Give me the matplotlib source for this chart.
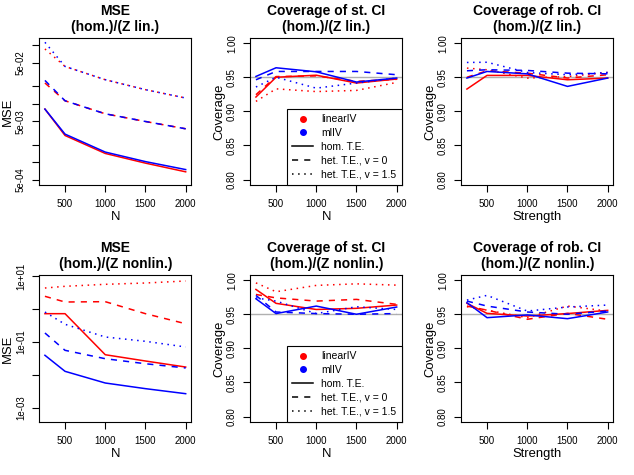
import matplotlib.pyplot as plt
from matplotlib.lines import Line2D
from matplotlib.ticker import FixedLocator, FixedFormatter, NullLocator

plt.rcParams['font.family'] = ['Liberation Sans', 'DejaVu Sans']

n_grid = [250, 500, 1000, 1500, 2000]
x_ticks = [500, 1000, 1500, 2000]

# keys: hom = hom. T.E., het0 = het. T.E. v=0, het15 = het. T.E. v=1.5
mse_lin_linear = {'hom': [0.00815, 0.00288, 0.00142, 0.00097, 0.000689],
                  'het0': [0.0228, 0.0113, 0.00677, 0.0050, 0.00375],
                  'het15': [0.0869, 0.0437, 0.0259, 0.0175, 0.0126]}
mse_lin_mliv = {'hom': [0.00815, 0.00304, 0.00150, 0.00103, 0.000753],
                'het0': [0.0252, 0.0113, 0.00677, 0.0050, 0.00375],
                'het15': [0.113, 0.0437, 0.0259, 0.0175, 0.0126]}

cov_st_lin_linear = {'hom': [0.921, 0.950, 0.953, 0.9415, 0.9474],
                     'het0': [0.9244, 0.951, 0.952, 0.944, 0.947],
                     'het15': [0.9146, 0.933, 0.929, 0.9307, 0.9424]}
cov_st_lin_mliv = {'hom': [0.9512, 0.9639, 0.958, 0.943, 0.9488],
                   'het0': [0.9463, 0.9585, 0.9585, 0.9585, 0.9537],
                   'het15': [0.9357, 0.950, 0.934, 0.9415, 0.9488]}

cov_rob_lin_linear = {'hom': [0.9327, 0.9527, 0.9527, 0.9463, 0.9488],
                      'het0': [0.950, 0.9595, 0.956, 0.9488, 0.9537],
                      'het15': [0.9634, 0.961, 0.9488, 0.951, 0.957]}
cov_rob_lin_mliv = {'hom': [0.9488, 0.9585, 0.955, 0.9366, 0.9488],
                    'het0': [0.9595, 0.961, 0.960, 0.956, 0.955],
                    'het15': [0.9717, 0.972, 0.957, 0.9537, 0.957]}

mse_nonlin_linear = {'hom': [0.728, 0.728, 0.041, 0.0264, 0.0173],
                     'het0': [2.46, 1.65, 1.69, 0.728, 0.36],
                     'het15': [4.4, 4.96, 5.7, 6.25, 7.2]}
mse_nonlin_mliv = {'hom': [0.0394, 0.0128, 0.00565, 0.0038, 0.00267],
                   'het0': [0.188, 0.0558, 0.031, 0.0218, 0.0162],
                   'het15': [0.818, 0.346, 0.142, 0.105, 0.0705]}

cov_st_nonlin_linear = {'hom': [0.9864, 0.966, 0.957, 0.9587, 0.9635],
                        'het0': [0.979, 0.974, 0.9693, 0.9718, 0.9645],
                        'het15': [0.996, 0.983, 0.9923, 0.9946, 0.9927]}
cov_st_nonlin_mliv = {'hom': [0.9727, 0.951, 0.962, 0.950, 0.9606],
                      'het0': [0.9776, 0.9533, 0.951, 0.950, 0.951],
                      'het15': [0.974, 0.9693, 0.951, 0.961, 0.957]}

cov_rob_nonlin_linear = {'hom': [0.966, 0.9513, 0.9474, 0.951, 0.9557],
                         'het0': [0.962, 0.956, 0.9426, 0.9513, 0.9426],
                         'het15': [0.961, 0.956, 0.945, 0.962, 0.9547]}
cov_rob_nonlin_mliv = {'hom': [0.967, 0.945, 0.949, 0.9435, 0.9533],
                       'het0': [0.9693, 0.962, 0.9533, 0.950, 0.9547],
                       'het15': [0.9708, 0.9777, 0.9547, 0.9606, 0.9635]}

styles = {'hom': '-', 'het0': (0, (4, 4)), 'het15': (0, (1, 3))}
LW = 1.1

fig = plt.figure(figsize=(6.34, 4.75), dpi=100)

col_left = [39.3 / 634, 250.3 / 634, 461.3 / 634]
row_bottom = [1 - 185 / 475, 1 - 422 / 475]
w, h = 152 / 634, 147.3 / 475


def base_axes(col, row, title, xlabel):
    ax = fig.add_axes([col_left[col], row_bottom[row], w, h])
    ax.set_title(title, fontsize=10, fontweight='bold', pad=4.5, linespacing=1.2)
    ax.set_xlim(180, 2070)
    ax.set_xticks(x_ticks)
    ax.set_xlabel(xlabel, fontsize=9.4, labelpad=1)
    for s in ax.spines.values():
        s.set_linewidth(0.8)
    return ax


def finish_axes(ax, ylabel):
    ax.tick_params(direction='out', length=4.7, width=0.8, labelsize=7, pad=5.5)
    ax.tick_params(axis='y', labelrotation=90, pad=5)
    for lab in ax.get_yticklabels():
        lab.set_va('center')
    ax.set_ylabel(ylabel, fontsize=9.4)
    ax.yaxis.set_label_coords(-0.165, 0.5)


def draw_series(ax, linear, mliv):
    for data, color in [(linear, 'red'), (mliv, 'blue')]:
        for key in ['hom', 'het0', 'het15']:
            ax.plot(n_grid, data[key], color=color, linestyle=styles[key], lw=LW)


def mse_panel(col, row, title, linear, mliv, ylim, ticks, labels):
    ax = base_axes(col, row, title, 'N')
    draw_series(ax, linear, mliv)
    ax.set_yscale('log')
    ax.set_ylim(*ylim)
    ax.yaxis.set_major_locator(FixedLocator(ticks))
    ax.yaxis.set_major_formatter(FixedFormatter(labels))
    ax.yaxis.set_minor_locator(NullLocator())
    finish_axes(ax, 'MSE')
    return ax


def cov_panel(col, row, title, xlabel, linear, mliv, legend=False):
    ax = base_axes(col, row, title, xlabel)
    ax.axhline(0.95, color='#b0b0b0', lw=1, zorder=1)
    draw_series(ax, linear, mliv)
    ax.set_ylim(0.792, 1.008)
    ax.set_yticks([0.80, 0.85, 0.90, 0.95, 1.00])
    ax.set_yticklabels(['0.80', '0.85', '0.90', '0.95', '1.00'])
    finish_axes(ax, 'Coverage')
    if legend:
        handles = [Line2D([], [], color='red', marker='o', ls='none', markersize=4),
                   Line2D([], [], color='blue', marker='o', ls='none', markersize=4),
                   Line2D([], [], color='black', ls=styles['hom'], lw=LW),
                   Line2D([], [], color='black', ls=styles['het0'], lw=LW),
                   Line2D([], [], color='black', ls=styles['het15'], lw=LW)]
        names = ['linearIV', 'mlIV', 'hom. T.E.', 'het. T.E., v = 0', 'het. T.E., v = 1.5']
        leg = ax.legend(handles, names, loc='lower right', bbox_to_anchor=(1, 0),
                        borderaxespad=0, fontsize=7.5, frameon=True, fancybox=False,
                        edgecolor='black', framealpha=1, handlelength=2.0,
                        labelspacing=0.36, borderpad=0.55, handletextpad=0.8)
        leg.get_frame().set_linewidth(0.8)
    return ax


mse_panel(0, 0, 'MSE\n(hom.)/(Z lin.)', mse_lin_linear, mse_lin_mliv,
          (4.10e-4, 0.1355),
          [1e-1, 5e-2, 2e-2, 1e-2, 5e-3, 2e-3, 1e-3, 5e-4],
          ['', '5e-02', '', '', '5e-03', '', '', '5e-04'])
cov_panel(1, 0, 'Coverage of st. CI\n(hom.)/(Z lin.)', 'N',
          cov_st_lin_linear, cov_st_lin_mliv, legend=True)
cov_panel(2, 0, 'Coverage of rob. CI\n(hom.)/(Z lin.)', 'Strength',
          cov_rob_lin_linear, cov_rob_lin_mliv)

mse_panel(0, 1, 'MSE\n(hom.)/(Z nonlin.)', mse_nonlin_linear, mse_nonlin_mliv,
          (3.67e-4, 11.19),
          [1e1, 1e0, 1e-1, 1e-2, 1e-3],
          ['1e+01', '', '1e-01', '', '1e-03'])
cov_panel(1, 1, 'Coverage of st. CI\n(hom.)/(Z nonlin.)', 'N',
          cov_st_nonlin_linear, cov_st_nonlin_mliv, legend=True)
cov_panel(2, 1, 'Coverage of rob. CI\n(hom.)/(Z nonlin.)', 'Strength',
          cov_rob_nonlin_linear, cov_rob_nonlin_mliv)

fig.savefig('out.png', dpi=100)
